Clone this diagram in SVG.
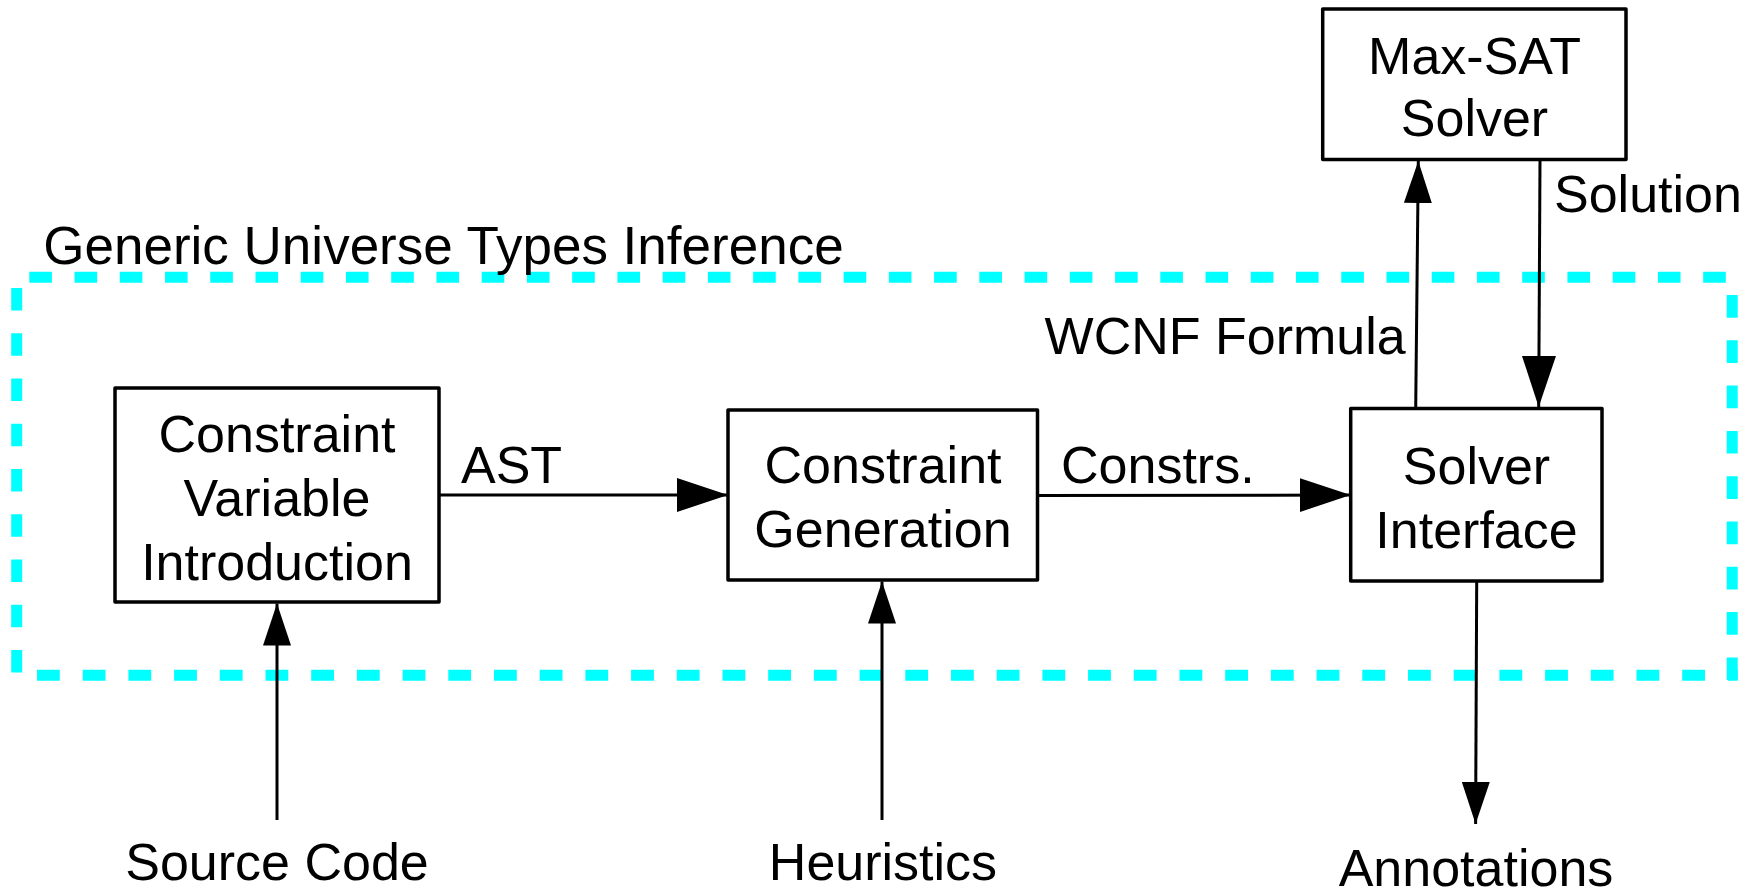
<svg xmlns="http://www.w3.org/2000/svg" width="1759" height="892" viewBox="0 0 1759 892">
  <style>
    text { font-family: "Liberation Sans", Arial, sans-serif; font-size: 52px; fill: #000; }
    .mid { text-anchor: middle; }
    .box { fill: #fff; stroke: #000; stroke-width: 3.5; stroke-linejoin: round; }
    .edge { fill: none; stroke: #000; stroke-width: 3; }
    .frame { fill: none; stroke: #00FFFF; stroke-width: 11; stroke-linecap: butt; }
  </style>
  <defs>
    <marker id="headLarge" markerUnits="userSpaceOnUse" markerWidth="51" markerHeight="34" refX="51" refY="17" orient="auto">
      <path d="M0,0 L51,17 L0,34 Z" fill="#000"/>
    </marker>
    <marker id="headSmall" markerUnits="userSpaceOnUse" markerWidth="42" markerHeight="28" refX="42" refY="14" orient="auto">
      <path d="M0,0 L42,14 L0,28 Z" fill="#000"/>
    </marker>
  </defs>

  <rect width="1759" height="892" fill="#fff"/>

  <!-- inference boundary (dashed frame) -->
  <g id="inference-boundary">
    <line class="frame" x1="29.3" y1="277.2" x2="1727" y2="277.2" stroke-dasharray="22.6 22.64"/>
    <line class="frame" x1="1732.2" y1="295" x2="1732.2" y2="681" stroke-dasharray="22.7 22.6"/>
    <line class="frame" x1="37" y1="675.2" x2="1737.7" y2="675.2" stroke-dasharray="22.8 22.9"/>
    <line class="frame" x1="16.7" y1="288" x2="16.7" y2="673" stroke-dasharray="22.6 22.65"/>
    <text x="43.3" y="263.5" style="font-size:53px">Generic Universe Types Inference</text>
  </g>

  <g id="constraint-variable-introduction">
    <rect class="box" x="115" y="388" width="324" height="214"/>
    <text class="mid" x="277" y="452">Constraint</text>
    <text class="mid" x="277" y="516">Variable</text>
    <text class="mid" x="277" y="580">Introduction</text>
  </g>

  <g id="constraint-generation">
    <rect class="box" x="728" y="410" width="309.5" height="170"/>
    <text class="mid" x="883" y="483">Constraint</text>
    <text class="mid" x="883" y="547">Generation</text>
  </g>

  <g id="solver-interface">
    <rect class="box" x="1350.7" y="408.5" width="251.3" height="172.5"/>
    <text class="mid" x="1476.5" y="484">Solver</text>
    <text class="mid" x="1476.5" y="548">Interface</text>
  </g>

  <g id="max-sat-solver">
    <rect class="box" x="1322.7" y="9" width="303.3" height="150.4"/>
    <text class="mid" x="1474.5" y="74">Max-SAT</text>
    <text class="mid" x="1474.5" y="136">Solver</text>
  </g>

  <g id="source-code">
    <text class="mid" x="277" y="880">Source Code</text>
  </g>
  <g id="heuristics">
    <text class="mid" x="883" y="880">Heuristics</text>
  </g>
  <g id="annotations">
    <text class="mid" x="1476" y="886">Annotations</text>
  </g>

  <g id="connectors">
    <line class="edge" x1="439" y1="495" x2="728" y2="495" marker-end="url(#headLarge)"/>
    <text x="461" y="483">AST</text>

    <line class="edge" x1="1037.5" y1="495.5" x2="1350.7" y2="495" marker-end="url(#headLarge)"/>
    <text x="1061" y="483">Constrs.</text>

    <line class="edge" x1="1415.7" y1="408.5" x2="1418.3" y2="161" marker-end="url(#headSmall)"/>
    <text x="1405.7" y="354" style="text-anchor:end">WCNF Formula</text>

    <line class="edge" x1="1540" y1="159.4" x2="1538.7" y2="407" marker-end="url(#headLarge)"/>
    <text x="1554" y="212">Solution</text>

    <line class="edge" x1="277" y1="820" x2="277" y2="603.5" marker-end="url(#headSmall)"/>
    <line class="edge" x1="882" y1="820" x2="882" y2="581.5" marker-end="url(#headSmall)"/>
    <line class="edge" x1="1476.7" y1="581" x2="1475.6" y2="824" marker-end="url(#headSmall)"/>
  </g>
</svg>
